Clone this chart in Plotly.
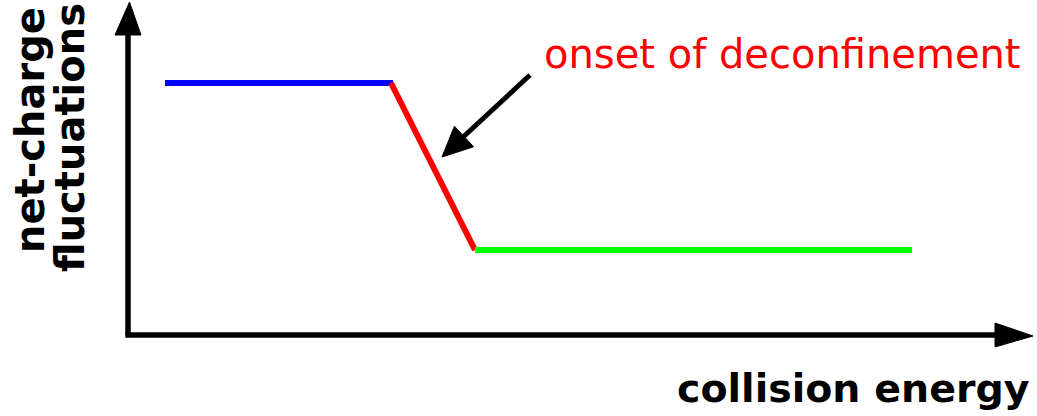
import plotly.graph_objects as go

# Schematic data (arbitrary units)
energy_below = [37, 265]
fluct_below = [252, 252]
energy_onset = [263, 347]
fluct_onset = [252, 85]
energy_above = [347, 784]
fluct_above = [85, 85]

annotation_text = "onset of deconfinement"
x_title = "collision energy"
y_title_lines = ["net-charge", "fluctuations"]

FONT = "DejaVu Sans"

fig = go.Figure()
fig.add_trace(go.Scatter(x=energy_below, y=fluct_below, mode="lines",
                         line=dict(color="#0000ff", width=6), hoverinfo="skip"))
fig.add_trace(go.Scatter(x=energy_onset, y=fluct_onset, mode="lines",
                         line=dict(color="#ff0000", width=6), hoverinfo="skip"))
fig.add_trace(go.Scatter(x=energy_above, y=fluct_above, mode="lines",
                         line=dict(color="#00ff00", width=6), hoverinfo="skip"))

shapes = []
# axis lines
shapes.append(dict(type="line", x0=0, y0=0, x1=0, y1=302, line=dict(color="black", width=5.5)))
shapes.append(dict(type="line", x0=-2.7, y0=0, x1=870, y1=0, line=dict(color="black", width=5.5)))
# axis arrowheads
shapes.append(dict(type="path", path="M -13 300 L 13 300 L 1.5 333 Z",
                   fillcolor="black", line=dict(color="black", width=1)))
shapes.append(dict(type="path", path="M 867 12 L 867 -12 L 905 -1 Z",
                   fillcolor="black", line=dict(color="black", width=1)))
# pointer arrow
shapes.append(dict(type="line", x0=402, y0=260, x1=333, y1=196, line=dict(color="black", width=5)))
shapes.append(dict(type="path", path="M 314 178 L 345.6 188.2 L 326.4 208.8 Z",
                   fillcolor="black", line=dict(color="black", width=1)))

annotations = [
    dict(x=414, y=281, text=annotation_text, showarrow=False, xanchor="left", yanchor="middle",
         font=dict(family=FONT, size=40, color="#ff0000")),
    dict(x=904, y=-53, text="<b>" + x_title + "</b>", showarrow=False, xanchor="right", yanchor="middle",
         font=dict(family=FONT, size=39.5, color="black")),
    dict(x=-98, y=205, text="<b>" + y_title_lines[0] + "</b>", showarrow=False, textangle=-90,
         xanchor="center", yanchor="middle", font=dict(family=FONT, size=40, color="black")),
    dict(x=-58, y=197, text="<b>" + y_title_lines[1] + "</b>", showarrow=False, textangle=-90,
         xanchor="center", yanchor="middle", font=dict(family=FONT, size=40, color="black")),
]

fig.update_layout(
    width=1037, height=416,
    margin=dict(l=0, r=0, t=0, b=0),
    paper_bgcolor="white", plot_bgcolor="white",
    showlegend=False,
    shapes=shapes, annotations=annotations,
    xaxis=dict(range=[-128, 909], visible=False, fixedrange=True),
    yaxis=dict(range=[-81, 335], visible=False, fixedrange=True),
)

fig.write_html("out.html", config={"displayModeBar": False},
               post_script="document.body.style.margin='0';document.body.style.overflow='hidden';")
